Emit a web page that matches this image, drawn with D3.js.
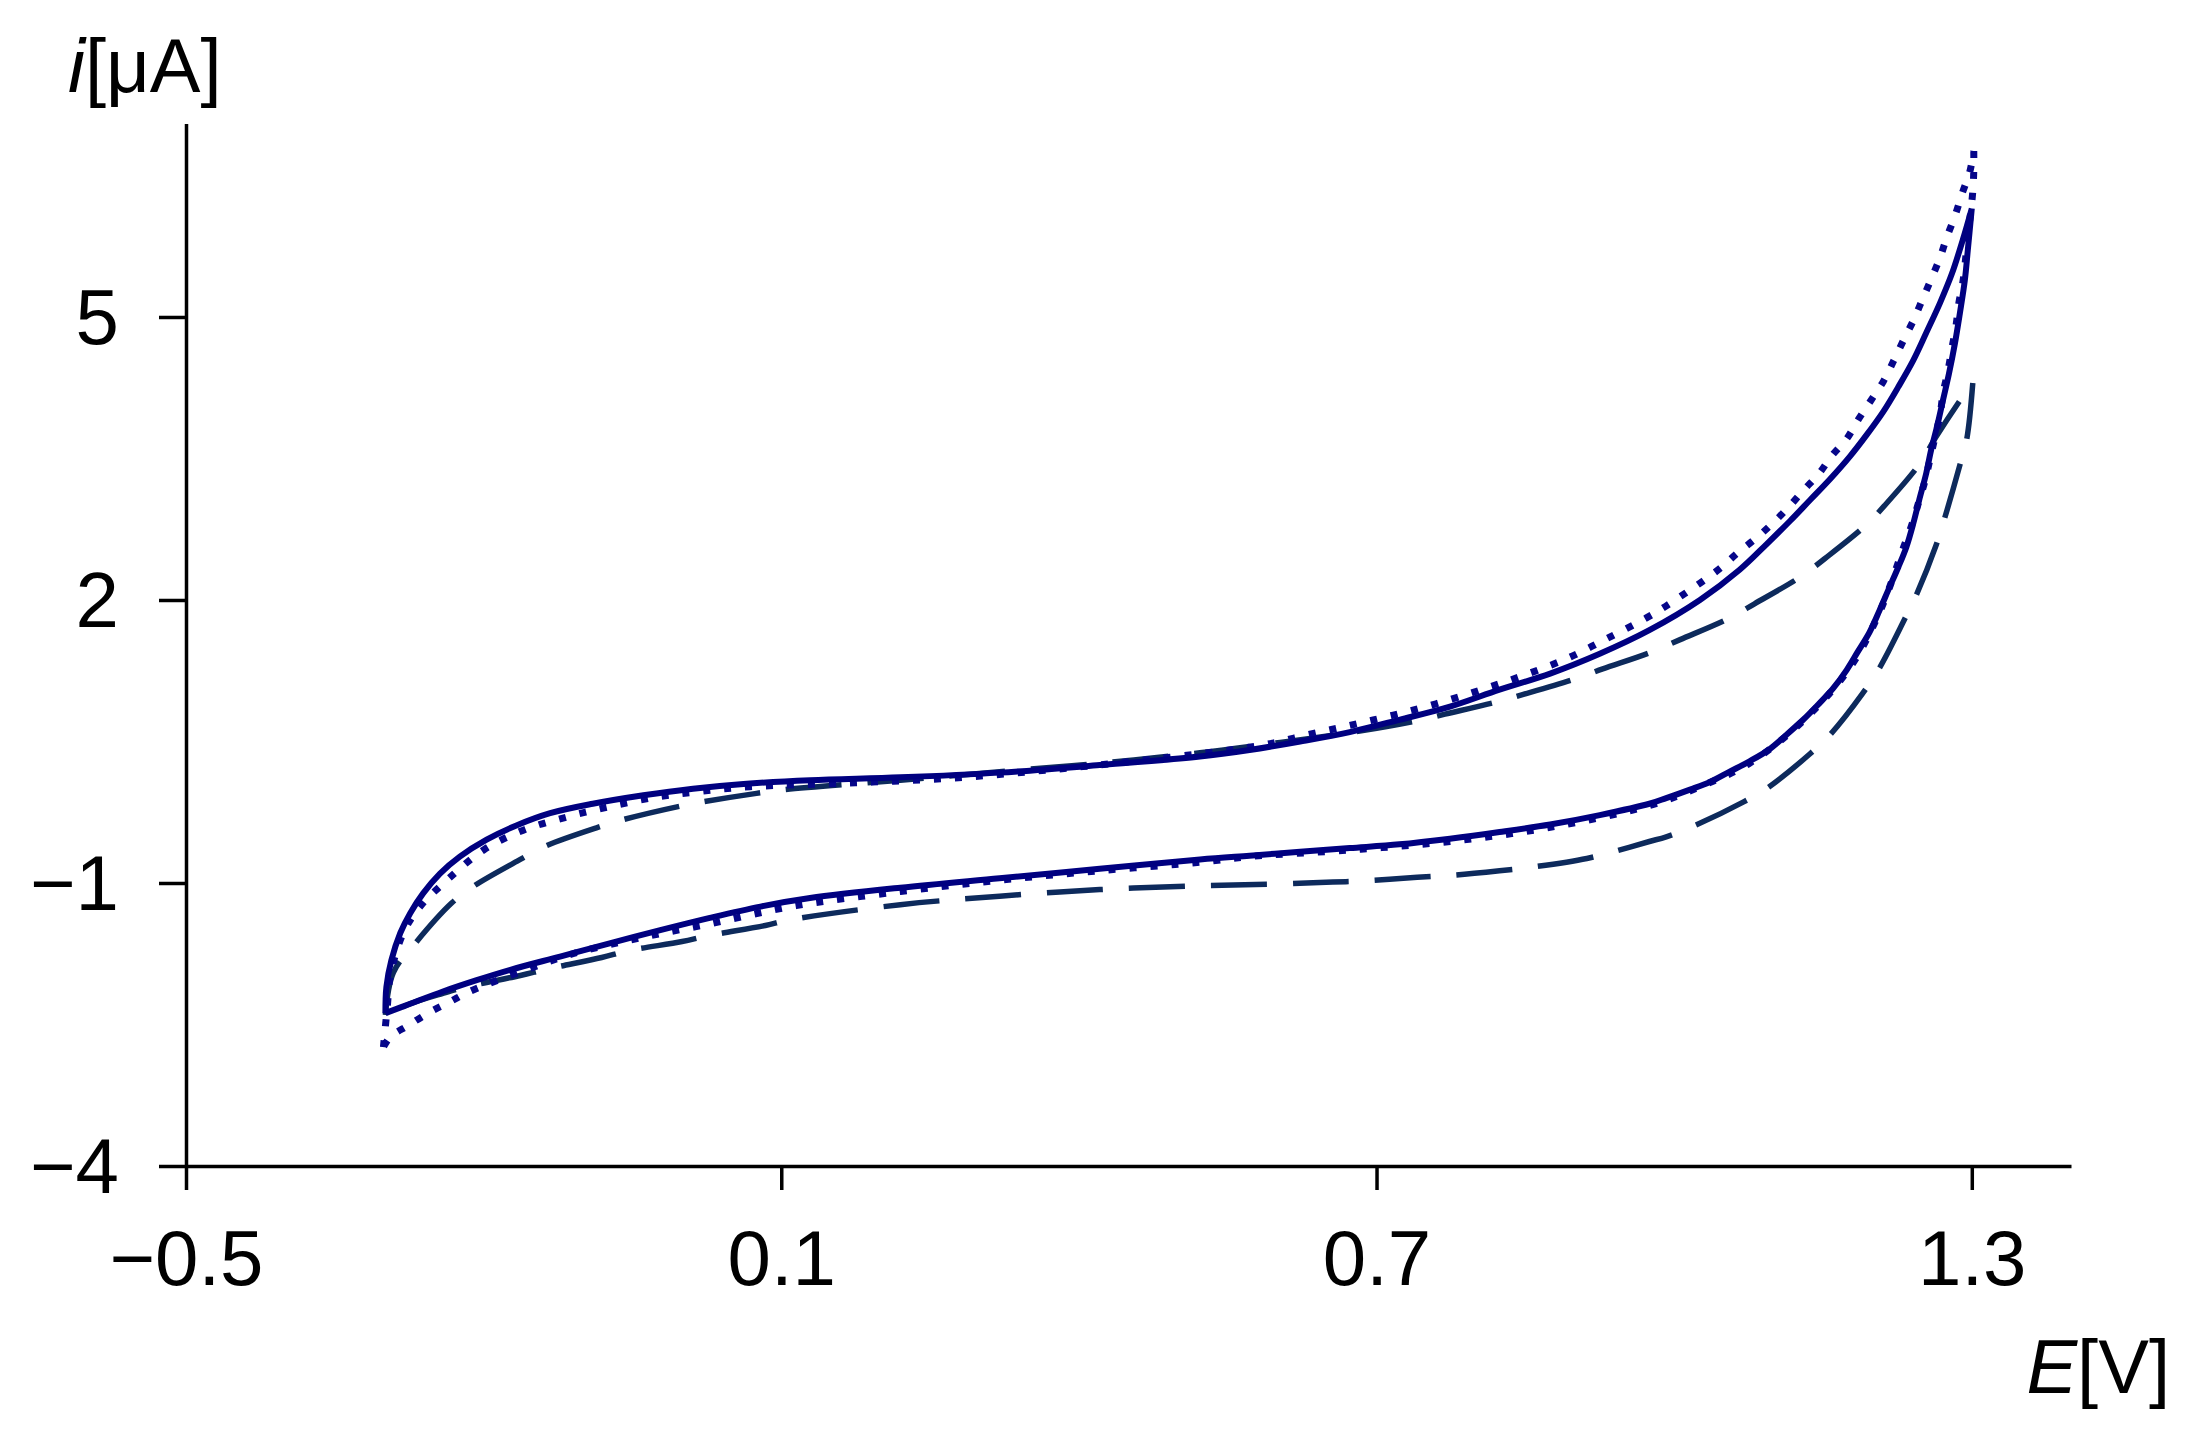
<!DOCTYPE html>
<html>
<head>
<meta charset="utf-8">
<script src="https://cdn.jsdelivr.net/npm/d3@7"></script>
<style>
  html, body { margin: 0; padding: 0; background: #fff; }
  svg { display: block; }
  text { font-family: "Liberation Sans", Arial, sans-serif; }
</style>
</head>
<body>
<svg id="chart" width="2190" height="1434"></svg>
<script>
// tick labels
const xTicks = [-0.5, 0.1, 0.7, 1.3];
const yTicks = [-4, -1, 2, 5];

// cyclic voltammograms, [E (V), i (µA)]; each loop split into two branches
const solidUpper = [
  [-0.299, -2.38], [-0.298, -2.10], [-0.293, -1.82], [-0.284, -1.53], [-0.274, -1.32],
  [-0.261, -1.11], [-0.244, -0.90], [-0.224, -0.72], [-0.197, -0.54], [-0.167, -0.39],
  [-0.133, -0.26], [-0.090, -0.16], [-0.039, -0.07], [0.011, 0.00], [0.062, 0.05],
  [0.129, 0.09], [0.220, 0.12], [0.320, 0.17], [0.421, 0.25], [0.522, 0.34],
  [0.572, 0.41], [0.623, 0.50], [0.673, 0.60], [0.723, 0.73], [0.774, 0.87],
  [0.824, 1.05], [0.875, 1.22], [0.925, 1.43], [0.975, 1.68], [1.026, 2.00],
  [1.066, 2.32], [1.093, 2.59], [1.117, 2.84], [1.137, 3.06], [1.157, 3.28],
  [1.177, 3.52], [1.194, 3.75], [1.211, 4.00], [1.226, 4.26], [1.241, 4.54],
  [1.254, 4.83], [1.268, 5.15], [1.280, 5.46], [1.291, 5.82], [1.300, 6.15]
];
const solidLower = [
  [1.300, 6.15], [1.296, 5.71], [1.293, 5.39], [1.288, 5.04], [1.283, 4.72],
  [1.277, 4.40], [1.271, 4.12], [1.265, 3.84], [1.259, 3.59], [1.254, 3.34],
  [1.247, 3.06], [1.241, 2.81], [1.234, 2.56], [1.226, 2.35], [1.216, 2.11],
  [1.207, 1.89], [1.197, 1.66], [1.185, 1.45], [1.174, 1.26], [1.160, 1.06],
  [1.145, 0.89], [1.130, 0.73], [1.113, 0.57], [1.095, 0.41], [1.076, 0.29],
  [1.056, 0.18], [1.036, 0.07], [1.016, -0.01], [0.992, -0.10], [0.975, -0.16],
  [0.925, -0.28], [0.875, -0.38], [0.824, -0.46], [0.774, -0.53], [0.723, -0.59],
  [0.673, -0.63], [0.623, -0.67], [0.572, -0.71], [0.522, -0.75], [0.421, -0.85],
  [0.320, -0.95], [0.220, -1.05], [0.129, -1.16], [0.079, -1.25], [0.028, -1.37],
  [-0.022, -1.50], [-0.073, -1.64], [-0.123, -1.78], [-0.173, -1.92], [-0.207, -2.03],
  [-0.241, -2.15], [-0.274, -2.28], [-0.299, -2.38]
];

const dottedUpper = [
  [-0.301, -2.74], [-0.297, -2.30], [-0.294, -1.98], [-0.281, -1.53], [-0.264, -1.25],
  [-0.237, -0.97], [-0.200, -0.65], [-0.160, -0.44], [-0.116, -0.30], [-0.073, -0.19],
  [-0.026, -0.09], [0.018, -0.03], [0.068, 0.02], [0.169, 0.06], [0.270, 0.11],
  [0.371, 0.20], [0.472, 0.31], [0.584, 0.46], [0.630, 0.57], [0.673, 0.67],
  [0.717, 0.78], [0.760, 0.90], [0.806, 1.05], [0.848, 1.20], [0.892, 1.38],
  [0.932, 1.59], [0.972, 1.81], [0.991, 1.93], [1.011, 2.07], [1.029, 2.20],
  [1.048, 2.35], [1.064, 2.50], [1.082, 2.65], [1.099, 2.81], [1.115, 2.98],
  [1.131, 3.17], [1.146, 3.34], [1.159, 3.53], [1.174, 3.71], [1.186, 3.92],
  [1.198, 4.11], [1.211, 4.32], [1.221, 4.53], [1.231, 4.75], [1.241, 4.96],
  [1.250, 5.18], [1.259, 5.40], [1.268, 5.63], [1.275, 5.85], [1.283, 6.07],
  [1.290, 6.30], [1.298, 6.54], [1.302, 6.76]
];
const dottedLower = [
  [1.302, 6.76], [1.302, 6.56], [1.301, 6.33], [1.296, 5.85], [1.291, 5.37],
  [1.287, 5.15], [1.284, 4.90], [1.280, 4.67], [1.276, 4.43], [1.271, 4.19],
  [1.268, 3.96], [1.263, 3.73], [1.258, 3.50], [1.253, 3.27], [1.246, 3.02],
  [1.239, 2.78], [1.232, 2.58], [1.207, 1.87], [1.177, 1.28], [1.128, 0.70],
  [1.076, 0.27], [1.026, 0.02], [0.975, -0.18], [0.875, -0.41], [0.774, -0.56],
  [0.673, -0.65], [0.572, -0.72], [0.522, -0.78], [0.421, -0.87], [0.320, -0.97],
  [0.220, -1.09], [0.115, -1.24], [0.068, -1.34], [0.025, -1.44], [-0.019, -1.53],
  [-0.063, -1.63], [-0.110, -1.75], [-0.152, -1.90], [-0.214, -2.15], [-0.234, -2.26],
  [-0.256, -2.38], [-0.276, -2.51], [-0.294, -2.63], [-0.301, -2.74]
];

const dashedUpper = [
  [-0.299, -2.40], [-0.291, -1.95], [-0.269, -1.64], [-0.232, -1.21], [-0.211, -1.04],
  [-0.163, -0.75], [-0.138, -0.61], [-0.085, -0.41], [-0.060, -0.33], [-0.004, -0.19],
  [0.021, -0.14], [0.075, -0.05], [0.104, -0.01], [0.220, 0.09], [0.320, 0.18],
  [0.421, 0.27], [0.522, 0.38], [0.603, 0.49], [0.683, 0.61], [0.741, 0.72],
  [0.769, 0.79], [0.821, 0.92], [0.848, 1.00], [0.902, 1.17], [0.928, 1.27],
  [0.975, 1.44], [1.006, 1.58], [1.056, 1.81], [1.081, 1.96], [1.128, 2.25],
  [1.152, 2.44], [1.194, 2.80], [1.212, 3.00], [1.248, 3.45],
  [1.264, 3.73], [1.293, 4.19], [1.301, 4.30]
];
const dashedLower = [
  [1.301, 4.30], [1.295, 3.71], [1.288, 3.43], [1.273, 2.88], [1.264, 2.58],
  [1.244, 2.05], [1.232, 1.79], [1.207, 1.28], [1.190, 1.01], [1.157, 0.57],
  [1.137, 0.37], [1.093, 0.00], [1.070, -0.14], [1.019, -0.40], [0.992, -0.51],
  [0.975, -0.56], [0.938, -0.67], [0.912, -0.74], [0.858, -0.83], [0.824, -0.87],
  [0.774, -0.92], [0.741, -0.94], [0.683, -0.98], [0.656, -0.99], [0.603, -1.01],
  [0.522, -1.03], [0.421, -1.07], [0.320, -1.14], [0.220, -1.23], [0.109, -1.39],
  [0.084, -1.45], [0.026, -1.56], [0.000, -1.62], [-0.055, -1.72], [-0.081, -1.79],
  [-0.135, -1.91], [-0.163, -1.98], [-0.217, -2.10], [-0.241, -2.17], [-0.274, -2.28],
  [-0.299, -2.40]
];

const series = [
  {name: 'dashed', branches: [dashedUpper, dashedLower], color: '#0d2a5c', width: 5.5, dash: '56 26'},
  {name: 'dotted', branches: [dottedUpper, dottedLower], color: '#06068a', width: 7, dash: '7 14'},
  {name: 'solid', branches: [solidUpper, solidLower], color: '#000080', width: 6, dash: null},
];

const svg = d3.select('#chart');
const fontSize = 78;

const x = d3.scaleLinear().domain([-0.5, 1.4]).range([186, 2071]);
const y = d3.scaleLinear().domain([-4, 7.05]).range([1166, 123.6]);

const xAxis = d3.axisBottom(x)
  .tickValues(xTicks)
  .tickFormat(d3.format('.1f'))
  .tickSize(24)
  .tickSizeOuter(0)
  .tickPadding(40);

const yAxis = d3.axisLeft(y)
  .tickValues(yTicks)
  .tickFormat(d3.format('d'))
  .tickSize(27)
  .tickSizeOuter(0)
  .tickPadding(40);

function styleAxis(g) {
  g.selectAll('path, line').attr('stroke', '#000').attr('stroke-width', 3.5);
  g.selectAll('text')
    .attr('fill', '#000')
    .style('font-size', fontSize + 'px')
    .style('font-family', '"Liberation Sans", Arial, sans-serif');
}

svg.append('g')
  .attr('transform', `translate(0,${y(-4)})`)
  .call(xAxis)
  .call(styleAxis);

svg.append('g')
  .attr('transform', `translate(${x(-0.5)},0)`)
  .call(yAxis)
  .call(styleAxis)
  .selectAll('.tick text').attr('dy', '0.34em');

// curves
const line = d3.line()
  .x(d => x(d[0]))
  .y(d => y(d[1]))
  .curve(d3.curveCatmullRom.alpha(0.5));

series.forEach(s => {
  svg.append('path')
    .attr('class', 'cv ' + s.name)
    .attr('d', s.branches.map(b => line(b)).join(''))
    .attr('fill', 'none')
    .attr('stroke', s.color)
    .attr('stroke-width', s.width)
    .attr('stroke-dasharray', s.dash)
    .attr('stroke-linejoin', 'round');
});

// axis titles
const yTitle = svg.append('text')
  .attr('x', 68)
  .attr('y', 92)
  .style('font-size', '76px')
  .attr('fill', '#000');
yTitle.append('tspan').style('font-style', 'italic').text('i');
yTitle.append('tspan').text('[μA]');

const xTitle = svg.append('text')
  .attr('x', 2170)
  .attr('y', 1393)
  .attr('text-anchor', 'end')
  .style('font-size', '76px')
  .attr('fill', '#000');
xTitle.append('tspan').style('font-style', 'italic').text('E');
xTitle.append('tspan').text('[V]');
</script>
</body>
</html>
